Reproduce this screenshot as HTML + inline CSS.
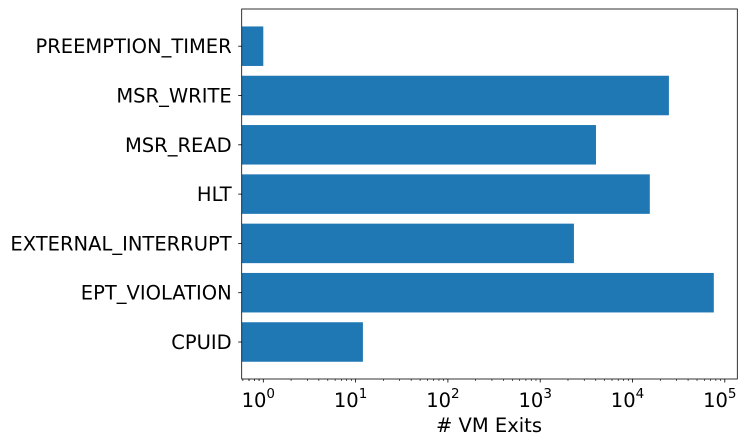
<!DOCTYPE html>
<html><head><meta charset="utf-8"><style>body{margin:0;background:#fff}svg{display:block;font-family:"DejaVu Sans","Liberation Sans",sans-serif}</style></head>
<body>
<svg id="chart" width="751" height="445"></svg>
<script>
const categories = ["CPUID","EPT_VIOLATION","EXTERNAL_INTERRUPT","HLT","MSR_READ","MSR_WRITE","PREEMPTION_TIMER"];
const values = [12, 76000, 2320, 15400, 4020, 24800, 1];
const tickExps = [0,1,2,3,4,5];
const NS="http://www.w3.org/2000/svg";
const svg=document.getElementById('chart');
const L=241.7,R=737.3,T=9,B=379;
const x0=263.3,dec=92.3;
function xs(v){return x0+Math.log10(v)*dec;}
const yc0=342,step=49.3,bh=39.5;
function ys(i){return yc0-i*step;}
function mk(t,a,p){const e=document.createElementNS(NS,t);for(const k in a)e.setAttribute(k,a[k]);(p||svg).appendChild(e);return e;}
categories.forEach((c,i)=>{
  const r=mk('rect',{x:L,y:ys(i)-bh/2,width:xs(values[i])-L,height:bh,fill:'#1f77b4'});
  
  
  mk('line',{x1:L,x2:L-3.5,y1:ys(i),y2:ys(i),stroke:'#000','stroke-width':0.8});
  const t=mk('text',{x:L-10,y:ys(i)+7,'text-anchor':'end','font-size':19.5});
  t.textContent=c;
  
  
});
tickExps.forEach(e=>{
  const x=xs(Math.pow(10,e));
  mk('line',{x1:x,x2:x,y1:B,y2:B+3.5,stroke:'#000','stroke-width':0.8});
  for(let m=2;m<10;m++){const xm=xs(m*Math.pow(10,e-1));if(xm>L&&xm<R)mk('line',{x1:xm,x2:xm,y1:B,y2:B+2,stroke:'#000','stroke-width':0.6});}
  const t=mk('text',{x:x-5,y:B+28,'text-anchor':'middle','font-size':19.5});
  t.textContent='10';
  const s=mk('tspan',{dy:-9,'font-size':13.5},t);s.textContent=e;
  
  
});
for(let m=2;m<10;m++){const xm=xs(m*Math.pow(10,5));if(xm<R)mk('line',{x1:xm,x2:xm,y1:B,y2:B+2,stroke:'#000','stroke-width':0.6});}
for(let m=6;m<10;m++){const xm=xs(m/10);if(xm>L)mk('line',{x1:xm,x2:xm,y1:B,y2:B+2,stroke:'#000','stroke-width':0.6});}
const f=mk('rect',{x:L,y:T,width:R-L,height:B-T,fill:'none',stroke:'#000','stroke-width':0.8});


const xt=mk('text',{x:489,y:432,'text-anchor':'middle','font-size':19.5});
xt.textContent='# VM Exits';


</script>
</body></html>
